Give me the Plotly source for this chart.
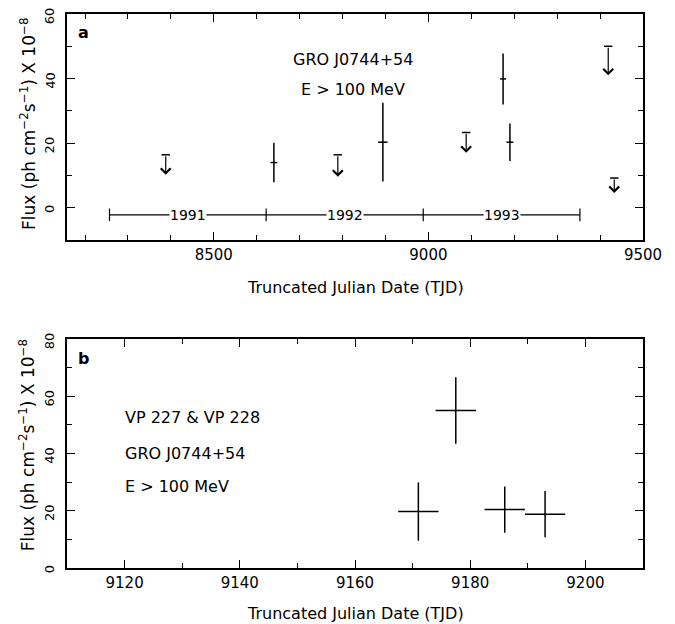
import plotly.graph_objects as go

# ---------------- data ----------------
# Panel a: detections
det_tjd = [8640, 8894, 9174, 9190]
det_flux = [14.0, 20.3, 39.9, 20.3]
det_err = [6.1, 12.2, 7.9, 5.8]
det_xerr = [8, 11, 7, 8]
# Panel a: upper limits
ul_tjd = [8388, 8789, 9088, 9419, 9433]
ul_flux = [16.4, 16.4, 23.3, 50.0, 9.2]
ul_arrow = [6.2, 6.8, 6.3, 9.0, 4.6]
# Year bar
year_bounds = [8257, 8622, 8988, 9353]
year_labels = ["1991", "1992", "1993"]
year_bar_y = -2.2
# Panel b: VP 227 & VP 228
b_tjd = [9171, 9177.5, 9186, 9193]
b_xerr = [3.5, 3.5, 3.5, 3.5]
b_flux = [19.7, 55.0, 20.4, 18.8]
b_err = [10.2, 11.6, 8.1, 8.1]
# y tick labels (drawn rotated)
a_yticks = [0, 20, 40, 60]
b_yticks = [0, 20, 40, 60, 80]

FONT = "DejaVu Sans"
LW = 1.5

fig = go.Figure()

# panel a detections
fig.add_trace(go.Scatter(
    x=det_tjd, y=det_flux, mode="markers",
    marker=dict(size=1, color="black"),
    error_y=dict(type="data", array=det_err, width=0, thickness=LW, color="black"),
    error_x=dict(type="data", array=det_xerr, width=0, thickness=LW, color="black"),
    xaxis="x", yaxis="y", showlegend=False, hoverinfo="skip"))

# upper-limit caps
fig.add_trace(go.Scatter(
    x=ul_tjd, y=ul_flux, mode="markers",
    marker=dict(symbol="line-ew", size=6, line=dict(width=LW, color="black")),
    xaxis="x", yaxis="y", showlegend=False, hoverinfo="skip"))

# year bar
fig.add_trace(go.Scatter(
    x=[year_bounds[0], year_bounds[-1]], y=[year_bar_y, year_bar_y], mode="lines",
    line=dict(color="black", width=1.2),
    xaxis="x", yaxis="y", showlegend=False, hoverinfo="skip"))
fig.add_trace(go.Scatter(
    x=year_bounds, y=[year_bar_y] * len(year_bounds), mode="markers",
    marker=dict(symbol="line-ns", size=9, line=dict(width=1.2, color="black")),
    xaxis="x", yaxis="y", showlegend=False, hoverinfo="skip"))

# panel b
fig.add_trace(go.Scatter(
    x=b_tjd, y=b_flux, mode="markers",
    marker=dict(size=1, color="black"),
    error_y=dict(type="data", array=b_err, width=0, thickness=LW, color="black"),
    error_x=dict(type="data", array=b_xerr, width=0, thickness=LW, color="black"),
    xaxis="x2", yaxis="y2", showlegend=False, hoverinfo="skip"))

annotations = []
# upper-limit arrows
for t, f, l in zip(ul_tjd, ul_flux, ul_arrow):
    annotations.append(dict(
        x=t, y=f - l, ax=t, ay=f, xref="x", yref="y", axref="x", ayref="y",
        text="", showarrow=True, arrowhead=4, arrowsize=1.6, arrowwidth=1.2,
        arrowcolor="black", standoff=0, startstandoff=0))
# year labels
for i, lab in enumerate(year_labels):
    annotations.append(dict(
        x=(year_bounds[i] + year_bounds[i + 1]) / 2, y=year_bar_y, xref="x", yref="y",
        text=lab, showarrow=False, bgcolor="white", borderpad=0,
        font=dict(family=FONT, size=14, color="black")))

tickf = dict(family=FONT, size=15, color="black")
ytickf = dict(family=FONT, size=13, color="black")
# rotated y tick labels
for v in a_yticks:
    annotations.append(dict(x=-0.03, y=v, xref="x domain", yref="y", text=str(v),
                            textangle=-90, showarrow=False, xanchor="center",
                            yanchor="middle", yshift=-1.5, font=ytickf))
for v in b_yticks:
    annotations.append(dict(x=-0.03, y=v, xref="x2 domain", yref="y2", text=str(v),
                            textangle=-90, showarrow=False, xanchor="center",
                            yanchor="middle", yshift=-1.5, font=ytickf))

txt = dict(family=FONT, size=16, color="black")
ttl = dict(family=FONT, size=17, color="black")
ytitle = "Flux (ph cm<sup>−2</sup>s<sup>−1</sup>) X 10<sup>−8</sup>"
xtitle = "Truncated Julian Date (TJD)"
annotations += [
    dict(x=0.016, y=0.92, xref="x domain", yref="y domain", text="<b>a</b>",
         showarrow=False, xanchor="left", yanchor="middle", font=txt),
    dict(x=0.497, y=0.80, xref="x domain", yref="y domain", text="GRO J0744+54",
         showarrow=False, xanchor="center", yanchor="middle", font=txt),
    dict(x=0.497, y=0.665, xref="x domain", yref="y domain", text="E > 100 MeV",
         showarrow=False, xanchor="center", yanchor="middle", font=txt),
    dict(x=0.016, y=0.915, xref="x2 domain", yref="y2 domain", text="<b>b</b>",
         showarrow=False, xanchor="left", yanchor="middle", font=txt),
    dict(x=0.097, y=0.655, xref="x2 domain", yref="y2 domain", text="VP 227 &amp; VP 228",
         showarrow=False, xanchor="left", yanchor="middle", font=txt),
    dict(x=0.097, y=0.50, xref="x2 domain", yref="y2 domain", text="GRO J0744+54",
         showarrow=False, xanchor="left", yanchor="middle", font=txt),
    dict(x=0.097, y=0.355, xref="x2 domain", yref="y2 domain", text="E > 100 MeV",
         showarrow=False, xanchor="left", yanchor="middle", font=txt),
    # axis titles
    dict(x=0.5, y=-0.208, xref="x domain", yref="y domain", text=xtitle,
         showarrow=False, xanchor="center", yanchor="middle", font=txt),
    dict(x=0.5, y=-0.197, xref="x2 domain", yref="y2 domain", text=xtitle,
         showarrow=False, xanchor="center", yanchor="middle", font=txt),
    dict(x=-0.068, y=0.513, xref="x domain", yref="y domain", text=ytitle, textangle=-90,
         showarrow=False, xanchor="center", yanchor="middle", font=ttl),
    dict(x=-0.068, y=0.535, xref="x2 domain", yref="y2 domain", text=ytitle, textangle=-90,
         showarrow=False, xanchor="center", yanchor="middle", font=ttl),
]


def ax_common(**kw):
    d = dict(showline=True, linecolor="black", linewidth=LW, mirror="ticks",
             ticks="inside", ticklen=8, tickwidth=1.3, tickcolor="black",
             showgrid=False, zeroline=False, automargin=False,
             ticklabeloverflow="allow",
             tickfont=tickf,
             minor=dict(ticks="inside", ticklen=5, tickwidth=1.3, tickcolor="black",
                        showgrid=False))
    d.update(kw)
    return d

xa = ax_common(range=[8158, 9500], dtick=500, tick0=0, anchor="y", domain=[0, 1])
xa["minor"]["dtick"] = 100
ya = ax_common(range=[-10, 60], dtick=20, tick0=0, anchor="x", domain=[0.592, 1.0],
               showticklabels=False)
ya["minor"]["dtick"] = 10
xb = ax_common(range=[9110, 9210], dtick=20, tick0=0, anchor="y2", domain=[0, 1])
xb["minor"]["dtick"] = 10
yb = ax_common(range=[0, 80], dtick=20, tick0=0, anchor="x2", domain=[0.0, 0.4134],
               showticklabels=False)
yb["minor"]["dtick"] = 10

# The page adds an 8px body margin, so the figure is 8px smaller on each side.
fig.update_layout(
    width=667, height=616,
    margin=dict(l=59, r=32, t=6, b=56),
    paper_bgcolor="white", plot_bgcolor="white",
    xaxis=xa, yaxis=ya, xaxis2=xb, yaxis2=yb,
    annotations=annotations,
    font=dict(family=FONT, color="black"),
)

fig.write_html("out.html")
